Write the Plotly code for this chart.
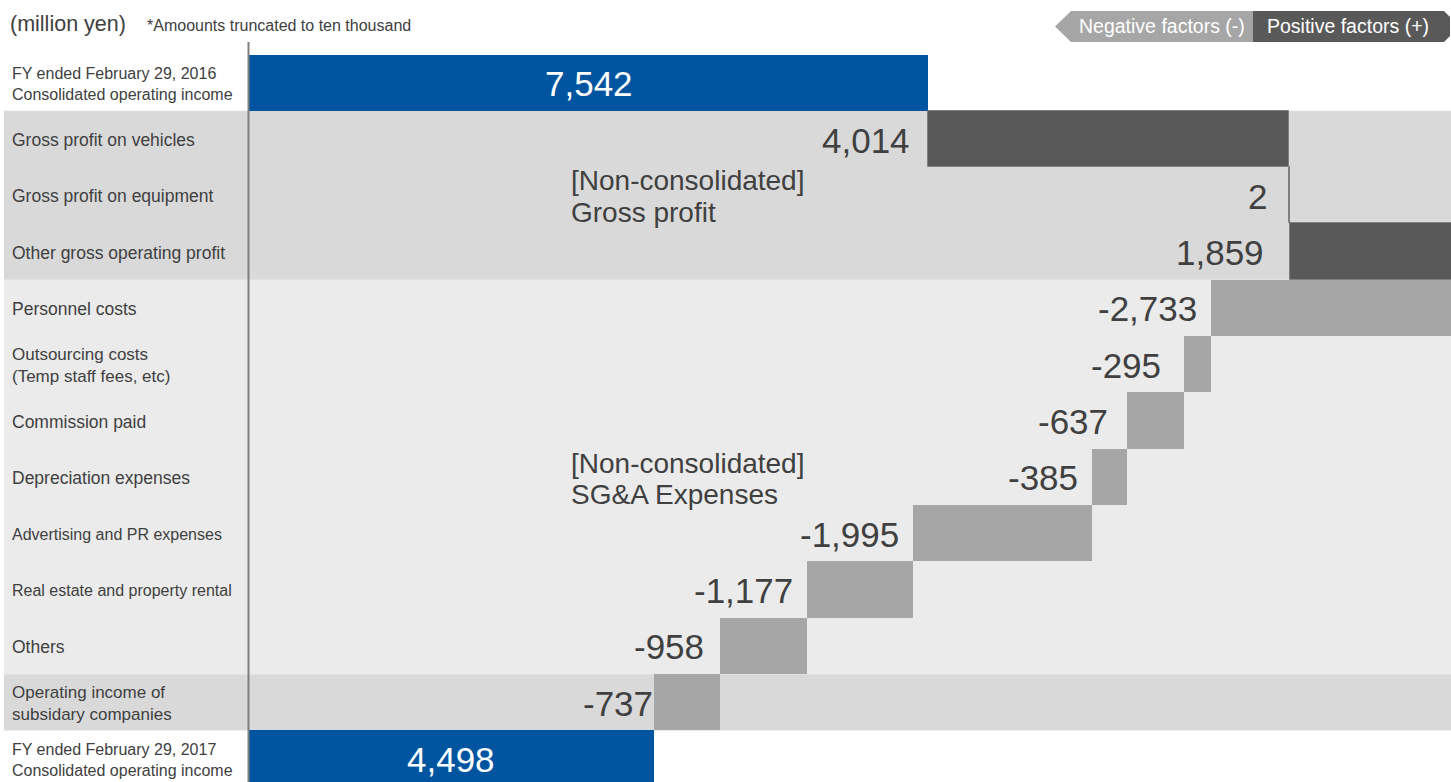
import plotly.graph_objects as go

# ---- data -------------------------------------------------------------
row_labels = [
    "FY ended February 29, 2016<br>Consolidated operating income",
    "Gross profit on vehicles",
    "Gross profit on equipment",
    "Other gross operating profit",
    "Personnel costs",
    "Outsourcing costs<br>(Temp staff fees, etc)",
    "Commission paid",
    "Depreciation expenses",
    "Advertising and PR expenses",
    "Real estate and property rental",
    "Others",
    "Operating income of<br>subsidary companies",
    "FY ended February 29, 2017<br>Consolidated operating income",
]
values = [7542, 4014, 2, 1859, -2733, -295, -637, -385, -1995, -1177, -958, -737, 4498]
measures = ["absolute"] + ["relative"] * 11 + ["absolute"]

group_titles = ["[Non-consolidated]", "[Non-consolidated]"]
group_names = ["Gross profit", "SG&A Expenses"]
unit_label = "(million yen)"
note_label = "*Amoounts truncated to ten thousand"
legend_labels = ["Negative factors (-)", "Positive factors (+)"]

# ---- styling ----------------------------------------------------------
W, H = 1451, 782
FONT = "Arial, 'Liberation Sans', sans-serif"
TXT = "#404040"
BLUE = "#0054a0"
POS = "#595959"
NEG = "#a6a6a6"
BAND_DARK = "#d9d9d9"
BAND_LIGHT = "#ebebeb"
label_sizes = [16, 17.5, 17.5, 17.5, 17.5, 17, 17.5, 17.5, 16, 16, 17.5, 17, 16]
# horizontal offset (px) of each value label from the left end of its bar
label_shift = [0, -16, -20, -24, -12, -21, -17, -12, -12, -12, -14, 1, 0]
# vertical centres (px) of the two caption lines for each group
group_line_y = [(181, 213), (463, 495)]

ROW_H = 56.33
TOP = 54.5
AXIS_X = 249
PX_PER_UNIT = (928 - AXIS_X) / 7542


def px(x):
    return x / W


def py(y):
    return 1 - y / H


n = len(values)
rows = list(range(n))

fig = go.Figure()
fig.add_trace(go.Waterfall(
    orientation="h",
    y=rows,
    x=values,
    measure=measures,
    totals=dict(marker=dict(color=BLUE)),
    increasing=dict(marker=dict(color=POS, line=dict(color="#808080", width=1))),
    decreasing=dict(marker=dict(color=NEG)),
    connector=dict(visible=False),
    hoverinfo="skip",
    showlegend=False,
))

annotations = []
running = 0
for i, (v, m) in enumerate(zip(values, measures)):
    if m == "absolute":
        running = v
        annotations.append(dict(
            x=v / 2, y=i, xref="x", yref="y", text=f"{v:,}", showarrow=False,
            xanchor="center", yanchor="middle", yshift=-1,
            font=dict(family=FONT, size=35, color="white")))
    else:
        start, end = running, running + v
        running = end
        annotations.append(dict(
            x=min(start, end), y=i, xref="x", yref="y", text=f"{v:,}", showarrow=False,
            xanchor="right", yanchor="middle", xshift=label_shift[i], yshift=-1,
            font=dict(family=FONT, size=35, color=TXT)))

# row labels
for i, (lab, sz) in enumerate(zip(row_labels, label_sizes)):
    annotations.append(dict(
        x=px(10), y=i, xref="paper", yref="y", text=lab, showarrow=False,
        xanchor="left", yanchor="middle", align="left", yshift=-1,
        font=dict(family=FONT, size=sz, color=TXT)))

# group captions
for title, name, (y1, y2) in zip(group_titles, group_names, group_line_y):
    for txt, yy in ((title, y1), (name, y2)):
        annotations.append(dict(x=px(569), y=py(yy), xref="paper", yref="paper", text=txt,
                                showarrow=False, xanchor="left", yanchor="middle",
                                font=dict(family=FONT, size=28, color=TXT)))

# header
annotations.append(dict(x=px(8), y=py(24), xref="paper", yref="paper", text=unit_label,
                        showarrow=False, xanchor="left", yanchor="middle",
                        font=dict(family=FONT, size=21.5, color=TXT)))
annotations.append(dict(x=px(145), y=py(25), xref="paper", yref="paper", text=note_label,
                        showarrow=False, xanchor="left", yanchor="middle",
                        font=dict(family=FONT, size=16, color=TXT)))

# legend captions
annotations.append(dict(x=px(1162), y=py(25.5), xref="paper", yref="paper", text=legend_labels[0],
                        showarrow=False, xanchor="center", yanchor="middle",
                        font=dict(family=FONT, size=19.5, color="white")))
annotations.append(dict(x=px(1348), y=py(25.5), xref="paper", yref="paper", text=legend_labels[1],
                        showarrow=False, xanchor="center", yanchor="middle",
                        font=dict(family=FONT, size=19.5, color="white")))

shapes = []
# background bands behind the gross-profit, SG&A and subsidiary rows
for y0, y1, col in [(0.5, 3.5, BAND_DARK), (3.5, 10.5, BAND_LIGHT), (10.5, 11.5, BAND_DARK)]:
    shapes.append(dict(type="rect", xref="paper", yref="y", x0=px(4), x1=1, y0=y0, y1=y1,
                       fillcolor=col, line=dict(width=0), layer="below"))
# zero line of the value axis
shapes.append(dict(type="line", xref="paper", yref="paper", x0=px(AXIS_X - 0.5), x1=px(AXIS_X - 0.5),
                   y0=py(42), y1=0, line=dict(color="#7f7f7f", width=2), layer="above"))


def path(points):
    return "M " + " L ".join(f"{px(x)},{py(y)}" for x, y in points) + " Z"


# legend tags
shapes.append(dict(type="path", xref="paper", yref="paper",
                   path=path([(1055, 26.5), (1071, 11), (1253, 11), (1253, 42), (1071, 42)]),
                   fillcolor=NEG, line=dict(width=0)))
shapes.append(dict(type="path", xref="paper", yref="paper",
                   path=path([(1253, 11), (1444, 11), (1450, 17), (1450, 36), (1444, 42), (1253, 42)]),
                   fillcolor=POS, line=dict(width=0)))

y_top = -(TOP + ROW_H / 2) / ROW_H
y_bot = (H - TOP - ROW_H / 2) / ROW_H

fig.update_layout(
    width=W, height=H,
    margin=dict(l=0, r=0, t=0, b=0),
    paper_bgcolor="white", plot_bgcolor="rgba(0,0,0,0)",
    waterfallgap=0,
    xaxis=dict(domain=[px(AXIS_X), 1], range=[0, (W - AXIS_X) / PX_PER_UNIT],
               showgrid=False, zeroline=False, showticklabels=False, fixedrange=True),
    yaxis=dict(range=[y_bot, y_top], showgrid=False, zeroline=False,
               showticklabels=False, fixedrange=True),
    annotations=annotations,
    shapes=shapes,
    font=dict(family=FONT, color=TXT),
)

fig.write_html("out.html", config={"displayModeBar": False})
